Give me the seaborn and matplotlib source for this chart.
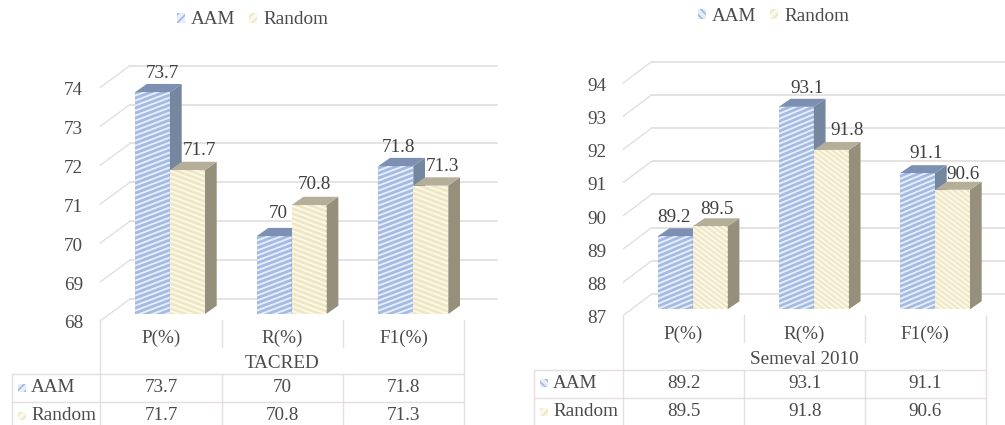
import numpy as np
import pandas as pd
import matplotlib
matplotlib.use("Agg")
import matplotlib.pyplot as plt
import seaborn as sns
from matplotlib.collections import LineCollection
from matplotlib.lines import Line2D
from matplotlib.patches import Patch, Polygon, Rectangle
from matplotlib.transforms import Affine2D, ScaledTranslation

# Precision, recall and F1 for the two relation-extraction datasets
metrics = ["P(%)", "R(%)", "F1(%)"]
methods = ["AAM", "Random"]
tacred_aam = [73.7, 70, 71.8]
tacred_random = [71.7, 70.8, 71.3]
semeval_aam = [89.2, 93.1, 91.1]
semeval_random = [89.5, 91.8, 90.6]
tacred_ticks = [68, 69, 70, 71, 72, 73, 74]
semeval_ticks = [87, 88, 89, 90, 91, 92, 93, 94]

W, H = 1005, 425
FS = 13.8
TEXT = "#4a4a4a"
LABEL = "#404040"
GRID = "#e4dfdc"
FACE = {"AAM": "#a3bbe4", "Random": "#efe7c3"}
STRIPE = {"AAM": "#e6edf9", "Random": "#fbf8ea"}
SIDE = {"AAM": "#74879f", "Random": "#958f7c"}
TOP = {"AAM": "#7b90b2", "Random": "#b5ae99"}

sns.set_theme(style="white")
plt.rcParams["font.family"] = ["Liberation Serif", "DejaVu Serif"]
plt.rcParams["font.size"] = FS
plt.rcParams["hatch.linewidth"] = 1.3

fig = plt.figure(figsize=(W / 100, H / 100), dpi=100, facecolor="white")
# Layout helper: coordinates in figure pixels, measured from the top-left corner
canvas = Affine2D().scale(1 / W, -1 / H).translate(0, 1) + fig.transFigure


def canvas_line(xs, ys):
    fig.add_artist(Line2D(xs, ys, transform=canvas, color=GRID, lw=1.0))


def canvas_text(x, y, s, **kw):
    fig.text(x, y, s, transform=canvas, va="center", color=TEXT, fontsize=FS, **kw)


def hatched_key(x, y, method, hatch):
    fig.add_artist(Rectangle((x, y), 8, 8, transform=canvas, facecolor=STRIPE[method],
                             edgecolor=FACE[method], hatch=hatch, lw=0))


def draw_panel(aam, random, ticks, title, cfg):
    s = cfg["spacing"]
    ppu = cfg["px_per_unit"]
    ax_left, ax_right = cfg["x_span"]
    base_px, top_px = cfg["base_px"], cfg["top_px"]
    ax = fig.add_axes([ax_left / W, 1 - base_px / H,
                       (ax_right - ax_left) / W, (base_px - top_px) / H])

    frame = pd.DataFrame({
        "metric": metrics * 2,
        "method": np.repeat(methods, len(metrics)),
        "value": list(aam) + list(random),
    })
    sns.barplot(data=frame, x="metric", y="value", hue="method", hue_order=methods,
                palette=FACE, width=cfg["bar_px"] * 2 / s, gap=0, saturation=1,
                linewidth=0, legend=False, ax=ax)

    low = ticks[0]
    ax.set_ylim(low, low + (base_px - top_px) / ppu)
    ax.set_xlim((ax_left - cfg["first_center"]) / s, (ax_right - cfg["first_center"]) / s)
    sns.despine(ax=ax, left=True, bottom=True, right=True, top=True)
    ax.patch.set_alpha(0)

    # Walls of the 3-D frame: floor-to-side lines and back gridlines at every tick
    dx_wall = cfg["wall_dx"] / s
    x_front = ax.get_xlim()[0]
    x_back = x_front + dx_wall
    for v in ticks:
        y_front = v - cfg["front_drop"] / ppu
        y_back = v + cfg["back_rise"] / ppu
        ax.plot([x_front, x_back], [y_front, y_back], color=GRID, lw=1.0,
                clip_on=False, zorder=0.5)
        ax.plot([x_back, ax.get_xlim()[1]], [y_back, y_back], color=GRID, lw=1.3,
                clip_on=False, zorder=0.5)

    # Extrude every bar with a side and a top face, and stripe its front
    dx = cfg["depth_dx"] / s
    dy = cfg["depth_dy"] / ppu
    for j, method in enumerate(methods):
        for i, bar in enumerate(ax.containers[j]):
            z = 3 + 2 * i + j
            x0, x1 = bar.get_x(), bar.get_x() + bar.get_width()
            v = bar.get_height()
            bar.set_zorder(z)
            ax.add_patch(Polygon([[x1, v], [x1 + dx, v + dy], [x1 + dx, low + dy], [x1, low]],
                                 closed=True, facecolor=SIDE[method], lw=0, clip_on=False, zorder=z))
            ax.add_patch(Polygon([[x0, v], [x1, v], [x1 + dx, v + dy], [x0 + dx, v + dy]],
                                 closed=True, facecolor=TOP[method], lw=0, clip_on=False, zorder=z))
            slope = cfg["stripe_slope"][method] * (s / ppu)
            step = cfg["stripe_px"] / ppu
            offsets = np.arange(low - 3, v + 3, step)
            segs = [[(x0, o), (x1, o + slope * (x1 - x0))] for o in offsets]
            stripes = LineCollection(segs, colors=STRIPE[method], linewidths=1.4, zorder=z + 0.1)
            ax.add_collection(stripes, autolim=False)
            stripes.set_clip_path(Rectangle((x0, low), x1 - x0, v - low, transform=ax.transData))
            nudge_x, nudge_y = cfg["label_nudge"][method][i]
            ax.annotate(f"{v:g}", ((x0 + x1) / 2, v), xytext=(nudge_x * 0.72, nudge_y * 0.72),
                        textcoords="offset points", ha="center", va="center",
                        color=LABEL, fontsize=FS, zorder=20, annotation_clip=False)

    # Category and value axes, shifted onto the front plane of the frame
    ax.set_yticks(ticks)
    ax.set_yticklabels([str(t) for t in ticks])
    ax.set_xlabel(title, color=TEXT, fontsize=FS)
    ax.xaxis.label.set_va("center")
    ax.xaxis.set_label_coords(cfg["title_x"], -(cfg["title_px"] - base_px) / (base_px - top_px))
    ax.set_ylabel("")
    ax.tick_params(axis="x", length=0, pad=cfg["xtick_pad"] * 0.72, labelcolor=TEXT, labelsize=FS)
    ax.tick_params(axis="y", length=0, pad=17 * 0.72, labelcolor=TEXT, labelsize=FS)
    for lab in ax.get_xticklabels():
        lab.set_va("center")
        lab.set_transform(lab.get_transform()
                          + ScaledTranslation(cfg["xtick_shift"] / 100, 0, fig.dpi_scale_trans))
    for lab in ax.get_yticklabels():
        lab.set_transform(lab.get_transform()
                          + ScaledTranslation(0, -cfg["ytick_drop"] / 100, fig.dpi_scale_trans))

    # Legend above the plot
    handles = [Patch(facecolor=STRIPE[m], edgecolor=FACE[m], hatch=cfg["key_hatch"][m], lw=0, label=m)
               for m in methods]
    fig.legend(handles=handles, ncol=2, frameon=False, loc="center",
               bbox_to_anchor=(cfg["legend_xy"][0] / W, 1 - cfg["legend_xy"][1] / H),
               handlelength=0.42, handleheight=0.42, handletextpad=0.3, columnspacing=0.74,
               borderpad=0, labelcolor=TEXT, fontsize=FS)

    # Data table under the axis
    vx = cfg["table_x"]
    r1, r2 = cfg["rows_px"]
    canvas_line([cfg["table_left"], vx[-1]], [r1, r1])
    canvas_line([cfg["table_left"], vx[-1]], [r2, r2])
    canvas_line([cfg["table_left"], cfg["table_left"]], [r1, H])
    for x in (vx[0], vx[-1]):
        canvas_line([x, x], [cfg["table_top"], H])
    for x in vx[1:-1]:
        canvas_line([x, x], [cfg["table_top"], cfg["table_top"] + 27])
        canvas_line([x, x], [r1, H])
    for method, values, yc in zip(methods, (aam, random), cfg["row_centers"]):
        hatched_key(cfg["table_left"] + 6, yc - 4, method, cfg["key_hatch"][method])
        canvas_text(cfg["table_left"] + 19, yc, method, ha="left")
        for k, val in enumerate(values):
            canvas_text((vx[k] + vx[k + 1]) / 2, yc, f"{val:g}", ha="center")


tacred_cfg = dict(
    spacing=121.65, px_per_unit=38.9, x_span=(100, 497), base_px=314, top_px=58,
    first_center=170, bar_px=35, wall_dx=30, front_drop=7, back_rise=15,
    depth_dx=11.7, depth_dy=8.3, stripe_px=5,
    stripe_slope={"AAM": 0.38, "Random": -0.38},
    label_nudge={"AAM": [(10, 19), (4, 23), (3, 19)], "Random": [(12, 19.5), (5, 21), (12, 19)]},
    title_x=(282 - 100) / 397, title_px=364, xtick_pad=24, xtick_shift=-9, ytick_drop=8,
    key_hatch={"AAM": "////", "Random": "////"}, legend_xy=(252.5, 20),
    table_x=[100, 222, 343, 464], table_left=12, table_top=320, rows_px=(374, 402),
    row_centers=(388, 416),
)
semeval_cfg = dict(
    spacing=121.15, px_per_unit=33.2, x_span=(623.3, 1005), base_px=309.3, top_px=55,
    first_center=692.7, bar_px=35, wall_dx=28.4, front_drop=6, back_rise=15.3,
    depth_dx=11.7, depth_dy=8, stripe_px=5,
    stripe_slope={"AAM": 0.42, "Random": -0.75},
    label_nudge={"AAM": [(-1, 18.5), (11, 18.5), (8.5, 20)], "Random": [(7, 16.5), (15.7, 19), (11, 15)]},
    title_x=(804 - 623.3) / 381.7, title_px=360, xtick_pad=24.7, xtick_shift=-9.7, ytick_drop=7.4,
    key_hatch={"AAM": "\\\\\\\\", "Random": "////"}, legend_xy=(773.5, 16.5),
    table_x=[623.3, 744.3, 865, 985.7], table_left=534, table_top=315, rows_px=(370, 398.3),
    row_centers=(383.5, 411.7),
)

draw_panel(tacred_aam, tacred_random, tacred_ticks, "TACRED", tacred_cfg)
draw_panel(semeval_aam, semeval_random, semeval_ticks, "Semeval 2010", semeval_cfg)

fig.savefig("out.png", dpi=100, facecolor="white")
